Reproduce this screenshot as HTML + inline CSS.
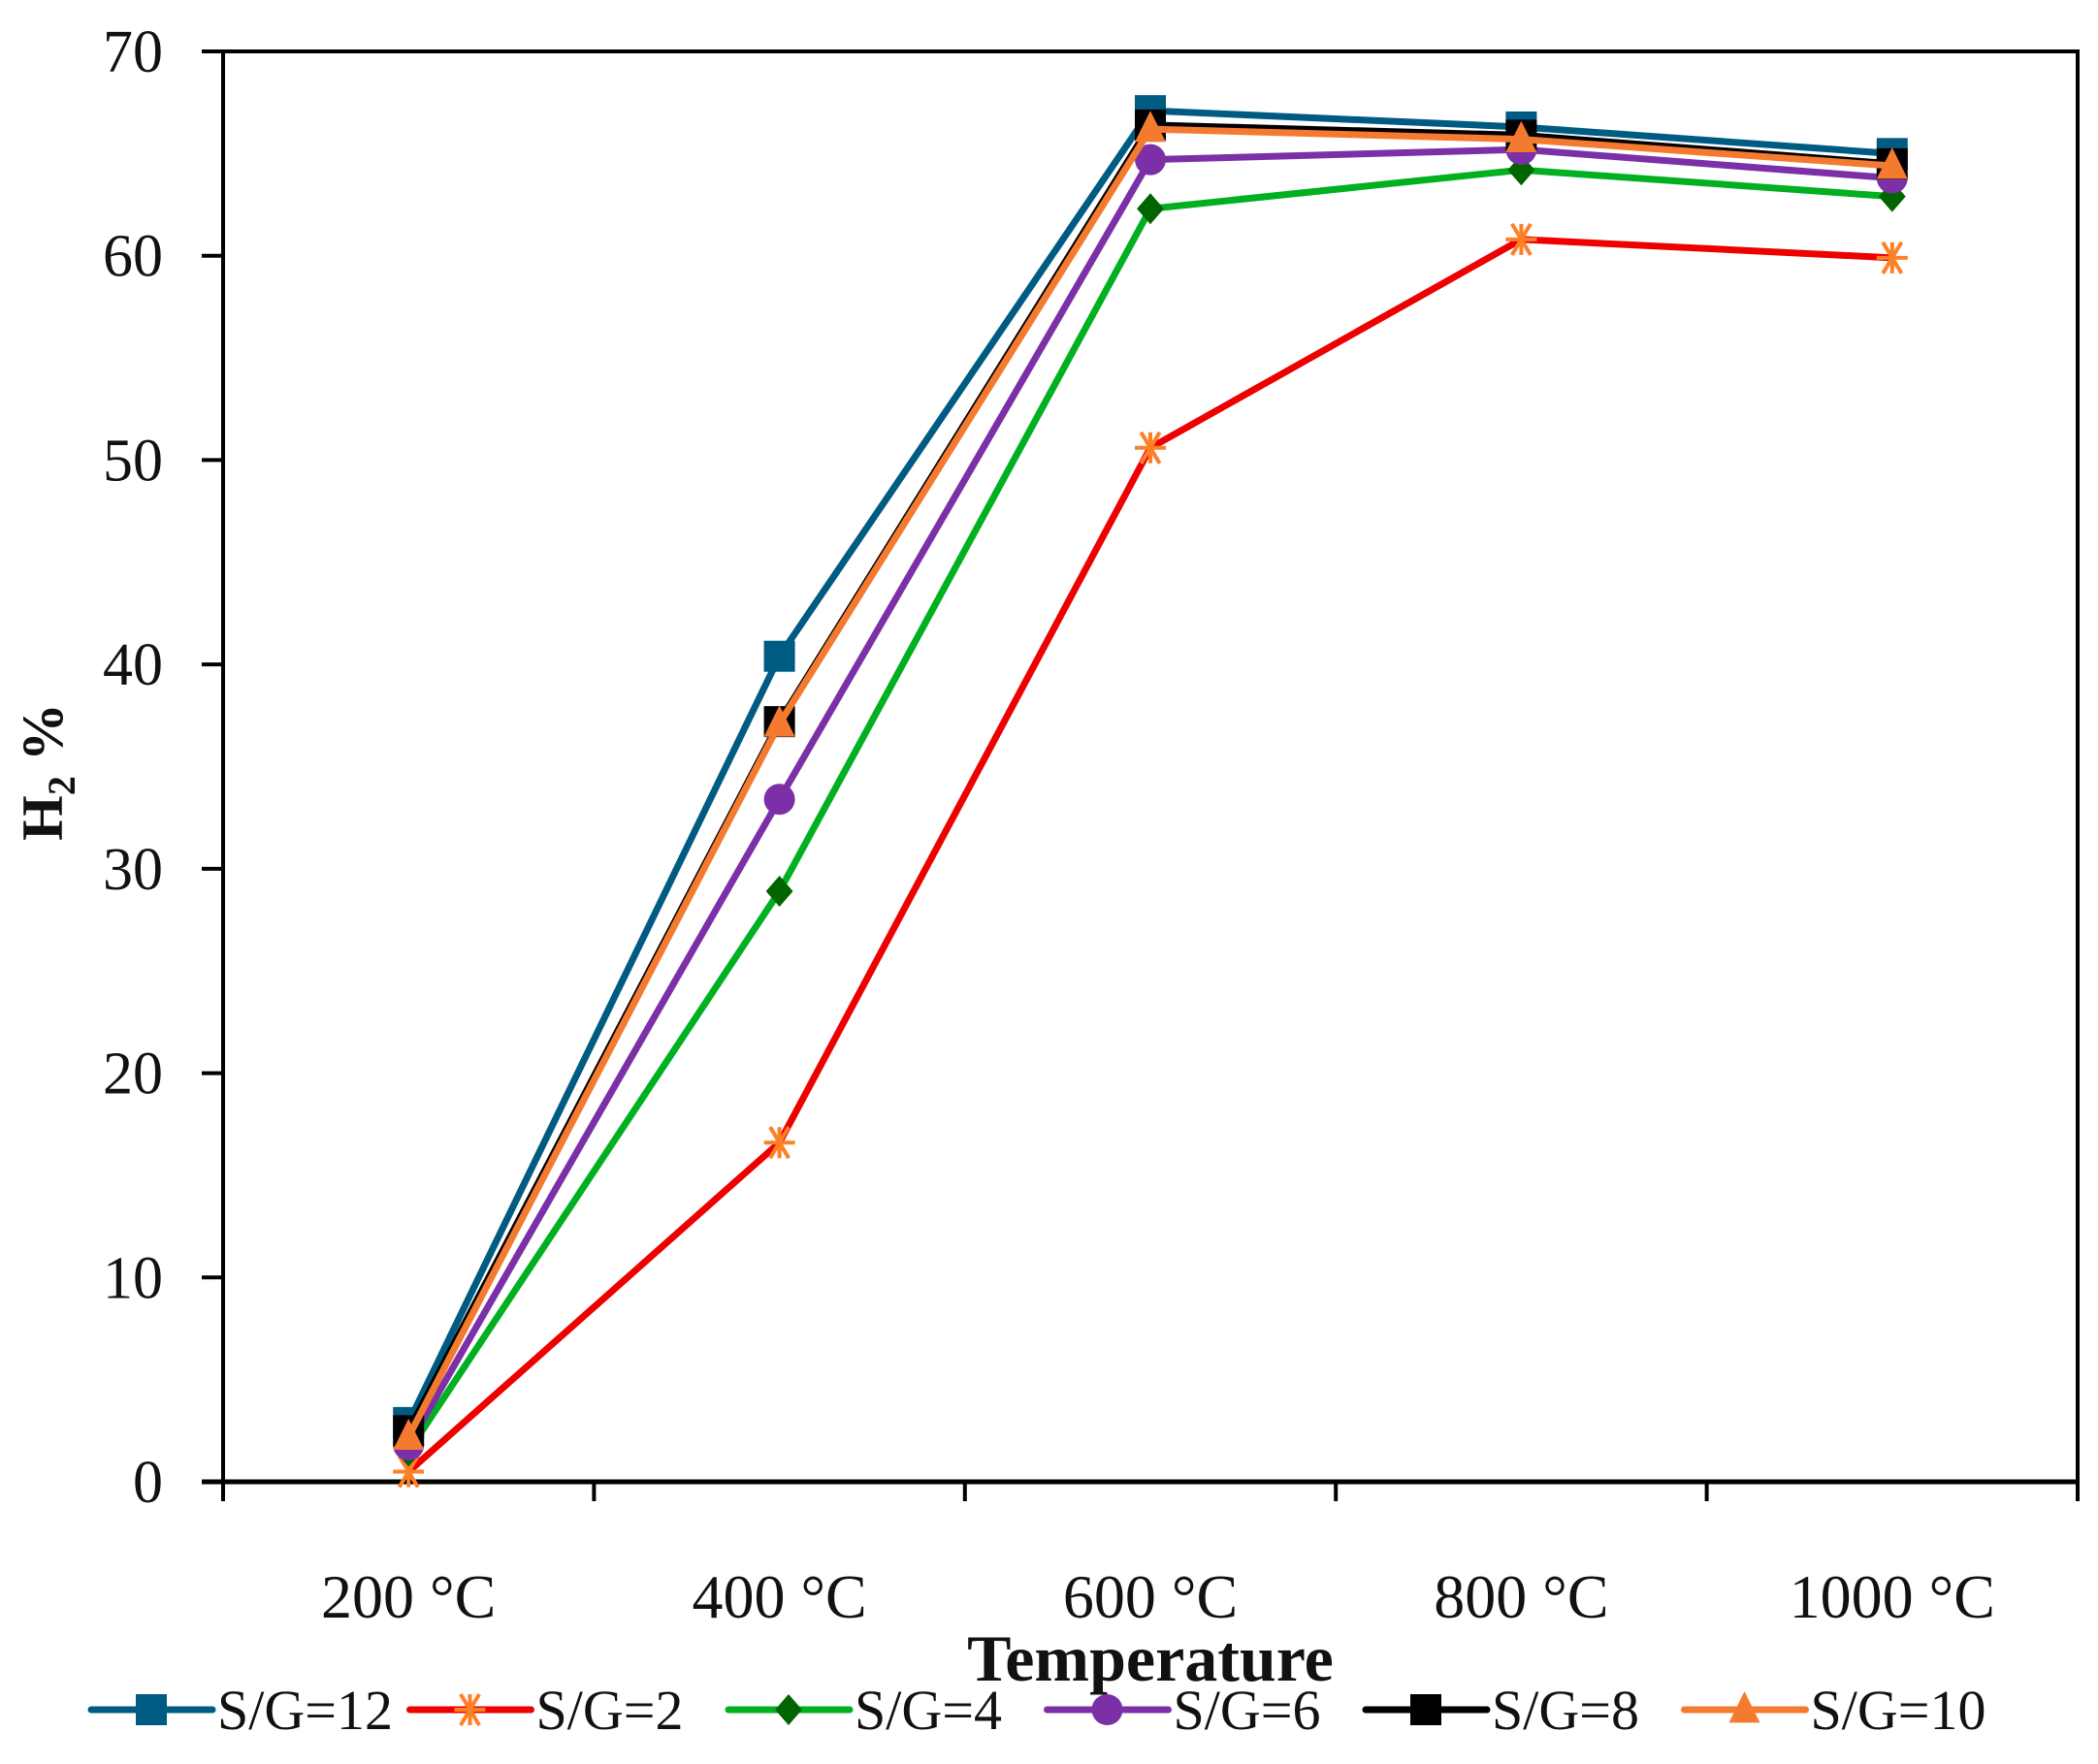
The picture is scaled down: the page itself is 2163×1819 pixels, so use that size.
<!DOCTYPE html>
<html><head><meta charset="utf-8"><style>
html,body{margin:0;padding:0;background:#fff;}
svg{display:block;}
text{font-family:"Liberation Serif",serif;fill:#111;}
</style></head><body>
<svg id="chart" width="2163" height="1819" viewBox="0 0 2163 1819"></svg>
<script>
const categories = ["200 °C","400 °C","600 °C","800 °C","1000 °C"];
const yTicks = [0,10,20,30,40,50,60,70];
const seriesNames = ["S/G=12","S/G=2","S/G=4","S/G=6","S/G=8","S/G=10"];
const sg12 = [2.9,40.4,67.1,66.3,65.0];
const sg2 = [0.5,16.6,50.6,60.8,59.9];
const sg4 = [1.5,28.9,62.3,64.2,62.9];
const sg6 = [1.8,33.4,64.7,65.2,63.8];
const sg8 = [2.5,37.2,66.4,65.9,64.5];
const sg10 = [2.2,37.1,66.2,65.7,64.4];

const NS="http://www.w3.org/2000/svg";
const svg=document.getElementById('chart');
const L=230,R=2142,T=53,B=1528,YMAX=70;
const cw=(R-L)/categories.length;
function xPos(i){return L+cw*(i+0.5);}
function yPos(v){return B-(v/YMAX)*(B-T);}
function mk(tag,attrs,parent){const e=document.createElementNS(NS,tag);for(const k in attrs)e.setAttribute(k,attrs[k]);(parent||svg).appendChild(e);return e;}

const styles=[
 {line:"#005b82",mc:"#005b82",m:"square"},
 {line:"#ee0000",mc:"#ff7f27",m:"star"},
 {line:"#00b020",mc:"#006400",m:"diamond"},
 {line:"#7b30a8",mc:"#7b30a8",m:"circle"},
 {line:"#000000",mc:"#000000",m:"square"},
 {line:"#f47a30",mc:"#f47a30",m:"triangle"}
];
const allData=[sg12,sg2,sg4,sg6,sg8,sg10];

function marker(g,type,x,y,c,s){
  let e;
  if(type==="square"){e=mk('rect',{x:x-s/2,y:y-s/2,width:s,height:s,fill:c},g);}
  else if(type==="circle"){e=mk('circle',{cx:x,cy:y,r:s/2,fill:c},g);}
  else if(type==="diamond"){e=mk('polygon',{points:`${x},${y-s/2} ${x+s/2.3},${y} ${x},${y+s/2} ${x-s/2.3},${y}`,fill:c},g);}
  else if(type==="triangle"){e=mk('polygon',{points:`${x},${y-s/1.7} ${x+s/2},${y+s/2.4} ${x-s/2},${y+s/2.4}`,fill:c},g);}
  else {const r=s/2;e=mk('path',{d:`M${x-r*0.6},${y-r}L${x+r*0.6},${y+r}M${x+r*0.6},${y-r}L${x-r*0.6},${y+r}M${x-r},${y}L${x+r},${y}M${x},${y-r}L${x},${y+r}`,stroke:c,'stroke-width':4,fill:'none'},g);}
  return e;
}

const frame=mk('path',{d:`M${L-22},${T}L${R},${T}L${R},${B}`,stroke:'#000','stroke-width':4,fill:'none'});


const yAxis=mk('line',{x1:L,y1:T,x2:L,y2:B+20,stroke:'#000','stroke-width':4});


const xAxis=mk('line',{x1:L-22,y1:B,x2:R,y2:B,stroke:'#000','stroke-width':5});



yTicks.forEach(v=>{
  const y=yPos(v);
  const t=mk('line',{x1:L-22,y1:y,x2:L,y2:y,stroke:'#000','stroke-width':4});
  
  
  const lb=mk('text',{x:L-62,y:y+21,'text-anchor':'end','font-size':62});
  lb.textContent=v;
  
  
});
for(let i=0;i<=categories.length;i++){
  const x=L+cw*i;
  const t=mk('line',{x1:x,y1:B,x2:x,y2:B+20,stroke:'#000','stroke-width':4});
  
  
}
categories.forEach((c,i)=>{
  const lb=mk('text',{x:xPos(i),y:1668,'text-anchor':'middle','font-size':64});
  lb.textContent=c;
  
  
});
const xt=mk('text',{x:1186,y:1703+30,'text-anchor':'middle','font-size':68,'font-weight':'bold'});
xt.textContent="Temperature";


const yt=mk('text',{x:0,y:0,'text-anchor':'middle','font-size':60,'font-weight':'bold',transform:'translate(64,796) rotate(-90)'});
yt.innerHTML='H<tspan font-size="40" dy="13">2</tspan><tspan dy="-13"> %</tspan>';



allData.forEach((d,si)=>{
  const st=styles[si];
  const g=mk('g',{});
  
  
  const pts=d.map((v,i)=>xPos(i)+','+yPos(v)).join(' ');
  mk('polyline',{points:pts,fill:'none',stroke:st.line,'stroke-width':7,'stroke-linejoin':'round'},g);
  d.forEach((v,i)=>{
    const m=marker(g,st.m,xPos(i),yPos(v),st.mc,32);
    
    
  });
});

seriesNames.forEach((n,i)=>{
  const st=styles[i];
  const x0=94+i*328.5, y=1763;
  const g=mk('g',{});
  
  
  mk('line',{x1:x0,y1:y,x2:x0+125,y2:y,stroke:st.line,'stroke-width':7,'stroke-linecap':'round'},g);
  marker(g,st.m,x0+62,y,st.mc,32);
  const t=mk('text',{x:x0+130,y:y+20,'font-size':58},g);
  t.textContent=n;
});
</script>
</body></html>
